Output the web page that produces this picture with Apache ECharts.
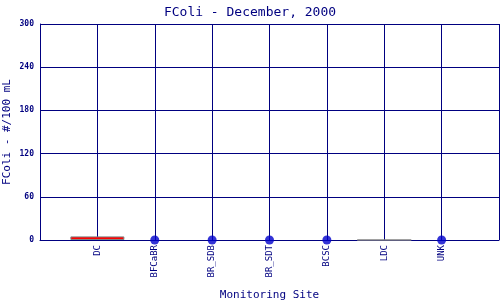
<!DOCTYPE html>
<html><head><meta charset="utf-8">
<script src="https://cdn.jsdelivr.net/npm/echarts@6/dist/echarts.min.js"></script>
<style>html,body{margin:0;padding:0;background:#fff}#c{width:500px;height:300px}</style>
</head><body><div id="c"></div>
<script>
var categories = ['', 'DC', 'BFCaBR', 'BR_SDB', 'BR_SDT', 'BCSC', 'LDC', 'UNK', ''];
var barValues = [null, 5, null, null, null, null, 0, null, null];
var barColors = [null, '#ff0000', null, null, null, null, '#ff0000', null, null];
var dotValues = [null, null, 0, 0, 0, 0, null, 0, null];
var yTicks = [0, 60, 120, 180, 240, 300];

var navy = '#000080';
var font = 'DejaVu Sans Mono';
var chart = echarts.init(document.getElementById('c'));
chart.setOption({
  animation: false,
  title: {text: 'FColi - December, 2000', left: 'center', top: 1,
    textStyle: {fontFamily: font, fontSize: 13, fontWeight: 'normal', color: navy}},
  grid: {left: 40, right: 1, top: 24, bottom: 60, containLabel: false, outerBoundsMode: 'none'},
  xAxis: {
    type: 'category', data: categories, boundaryGap: false,
    name: 'Monitoring Site', nameLocation: 'middle', nameGap: 50, nameMoveOverlap: false,
    nameTextStyle: {fontFamily: font, fontSize: 11, color: navy},
    axisLine: {lineStyle: {color: navy, width: 1}},
    axisTick: {show: false},
    axisLabel: {rotate: 90, interval: 0, margin: 5, fontFamily: font, fontSize: 9, color: navy},
    splitLine: {show: true, lineStyle: {color: navy, width: 1}}
  },
  yAxis: {
    type: 'value', min: yTicks[0], max: yTicks[yTicks.length - 1], interval: 60,
    name: 'FColi - #/100 mL', nameLocation: 'middle', nameGap: 27, nameMoveOverlap: false,
    nameTextStyle: {fontFamily: font, fontSize: 11, color: navy},
    axisLine: {show: true, lineStyle: {color: navy, width: 1}},
    axisTick: {show: false},
    axisLabel: {margin: 6, fontFamily: font, fontSize: 8, fontWeight: 'bold', color: navy},
    splitLine: {show: true, lineStyle: {color: navy, width: 1}}
  },
  series: [
    {type: 'bar', barWidth: 54, z: 3,
      data: barValues.map(function (v, i) {
        return v === null ? null : {value: v, itemStyle: {color: barColors[i], borderColor: '#808080', borderWidth: 1}};
      })},
    {type: 'scatter', symbol: 'circle', symbolSize: 9, clip: false, z: 4,
      itemStyle: {color: '#0000cc'}, data: dotValues}
  ]
});
</script></body></html>
